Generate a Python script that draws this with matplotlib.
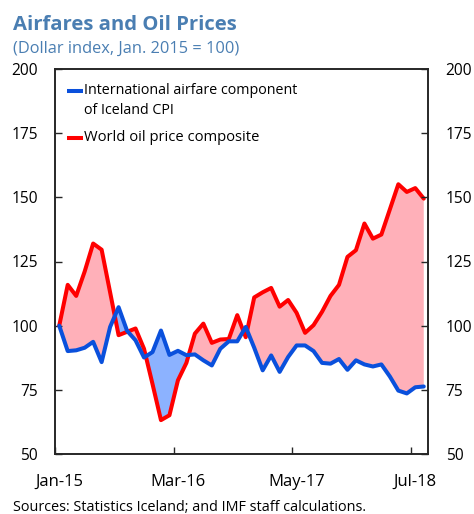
import matplotlib
matplotlib.use("Agg")
import matplotlib.pyplot as plt
import numpy as np
from matplotlib.lines import Line2D

# ---- data (monthly, Jan-15 .. Aug-18) ----
months = np.arange(44)
tick_labels = ["Jan-15", "Mar-16", "May-17", "Jul-18"]
tick_months = [0, 14, 28, 42]

airfare = [100.0, 90.1, 90.4, 91.4, 93.7, 85.8, 99.5, 107.2, 98.0, 94.3,
           87.6, 89.7, 98.1, 88.6, 90.2, 88.5, 88.8, 86.5, 84.5, 91.0,
           93.9, 93.9, 99.5, 91.4, 82.6, 88.4, 82.0, 87.8, 92.3, 92.3,
           90.1, 85.5, 85.2, 87.0, 82.8, 86.5, 84.9, 84.1, 84.9, 80.2,
           74.7, 73.6, 76.0, 76.3]
oil = [100.0, 115.9, 111.6, 121.1, 132.0, 129.6, 113.0, 96.3, 97.6, 98.9,
       91.0, 77.3, 63.2, 65.1, 78.7, 85.5, 96.9, 100.8, 93.3, 94.6,
       94.8, 104.1, 95.5, 111.0, 113.0, 114.7, 107.4, 110.0, 105.0, 97.2,
       100.2, 105.4, 111.6, 115.9, 126.8, 129.4, 139.8, 133.9, 135.5, 145.3,
       155.1, 152.1, 153.6, 149.5]
yticks = [50, 75, 100, 125, 150, 175, 200]

label_air = "International airfare component"
label_air2 = "of Iceland CPI"
label_oil = "World oil price composite"
title = "Airfares and Oil Prices"
subtitle = "(Dollar index, Jan. 2015 = 100)"
source = "Sources: Statistics Iceland; and IMF staff calculations."

plt.rcParams['font.family'] = ['Open Sans', 'DejaVu Sans']

W, H = 474, 514
fig = plt.figure(figsize=(W / 100, H / 100), dpi=100)
ax = fig.add_axes([55 / W, 1 - 454 / H, 373 / W, 385 / H])

BLUE = '#0a50dc'
RED = '#ff0000'
PINK = '#ffb0b9'
LBLUE = '#8cb2ff'

x = np.array(months, dtype=float)
a = np.array(airfare)
o = np.array(oil)
ax.fill_between(x, o, a, where=o >= a, interpolate=True, color=PINK, lw=0, zorder=1)
ax.fill_between(x, o, a, where=o < a, interpolate=True, color=LBLUE, lw=0, zorder=1)
ax.plot(x, o, color=RED, lw=2.9, solid_joinstyle='round', solid_capstyle='round', zorder=3)
ax.plot(x, a, color=BLUE, lw=2.9, solid_joinstyle='round', solid_capstyle='round', zorder=4)

ax.set_xlim(-0.5, 43.5)
ax.set_ylim(50, 200)
ax.set_yticks(yticks)
ax.set_xticks([m - 0.5 for m in tick_months])
ax.set_xticklabels([])
ax.set_xticks(tick_months, minor=True)
ax.set_xticklabels(tick_labels, minor=True)
ax.tick_params(axis='x', which='major', direction='in', length=5, width=1, color='#262626')
ax.tick_params(axis='x', which='minor', length=0, pad=14.2, labelsize=12, labelcolor='black')
ax.tick_params(axis='y', direction='in', length=5, width=1, color='#262626', labelsize=11.2, pad=12.2)

ax2 = ax.twinx()
ax2.set_ylim(50, 200)
ax2.set_yticks(yticks)
ax2.tick_params(axis='y', direction='in', length=5, width=1, color='#262626', labelsize=11.2, pad=12.7)

for axx in (ax, ax2):
    for s in axx.spines.values():
        s.set_color('#262626')
        s.set_linewidth(1.2)

# legend (manual)
ax.add_line(Line2D([0.031, 0.075], [0.943, 0.943], transform=ax.transAxes, color=BLUE, lw=2.9,
                   solid_capstyle='butt', zorder=5))
ax.add_line(Line2D([0.031, 0.075], [0.820, 0.820], transform=ax.transAxes, color=RED, lw=2.9,
                   solid_capstyle='butt', zorder=5))
t1 = ax.text(0.078, 0.945, label_air, transform=ax.transAxes, va='center', ha='left', fontsize=10)
t2 = ax.text(0.078, 0.891, label_air2, transform=ax.transAxes, va='center', ha='left', fontsize=10)
t3 = ax.text(0.078, 0.822, label_oil, transform=ax.transAxes, va='center', ha='left', fontsize=10)

tt = fig.text(12.7 / W, 1 - 30 / H, title, fontsize=15, fontweight='bold', color='#4a7eb2',
              ha='left', va='baseline')
st = fig.text(12.7 / W, 1 - 53 / H, subtitle, fontsize=11, color='#4a7eb2', ha='left', va='baseline')
so = fig.text(12.7 / W, 1 - 511 / H, source, fontsize=10, color='black', ha='left', va='baseline')

fig.canvas.draw()
r = fig.canvas.get_renderer()
def fit(t, w):
    bb = t.get_window_extent(r)
    t.set_fontsize(t.get_fontsize() * w / bb.width)
fit(tt, 224)
fit(st, 225)
fit(so, 354)
fit(t1, 214)
t2.set_fontsize(t1.get_fontsize())
fit(t3, 175)

fig.savefig('out.png', dpi=100)
